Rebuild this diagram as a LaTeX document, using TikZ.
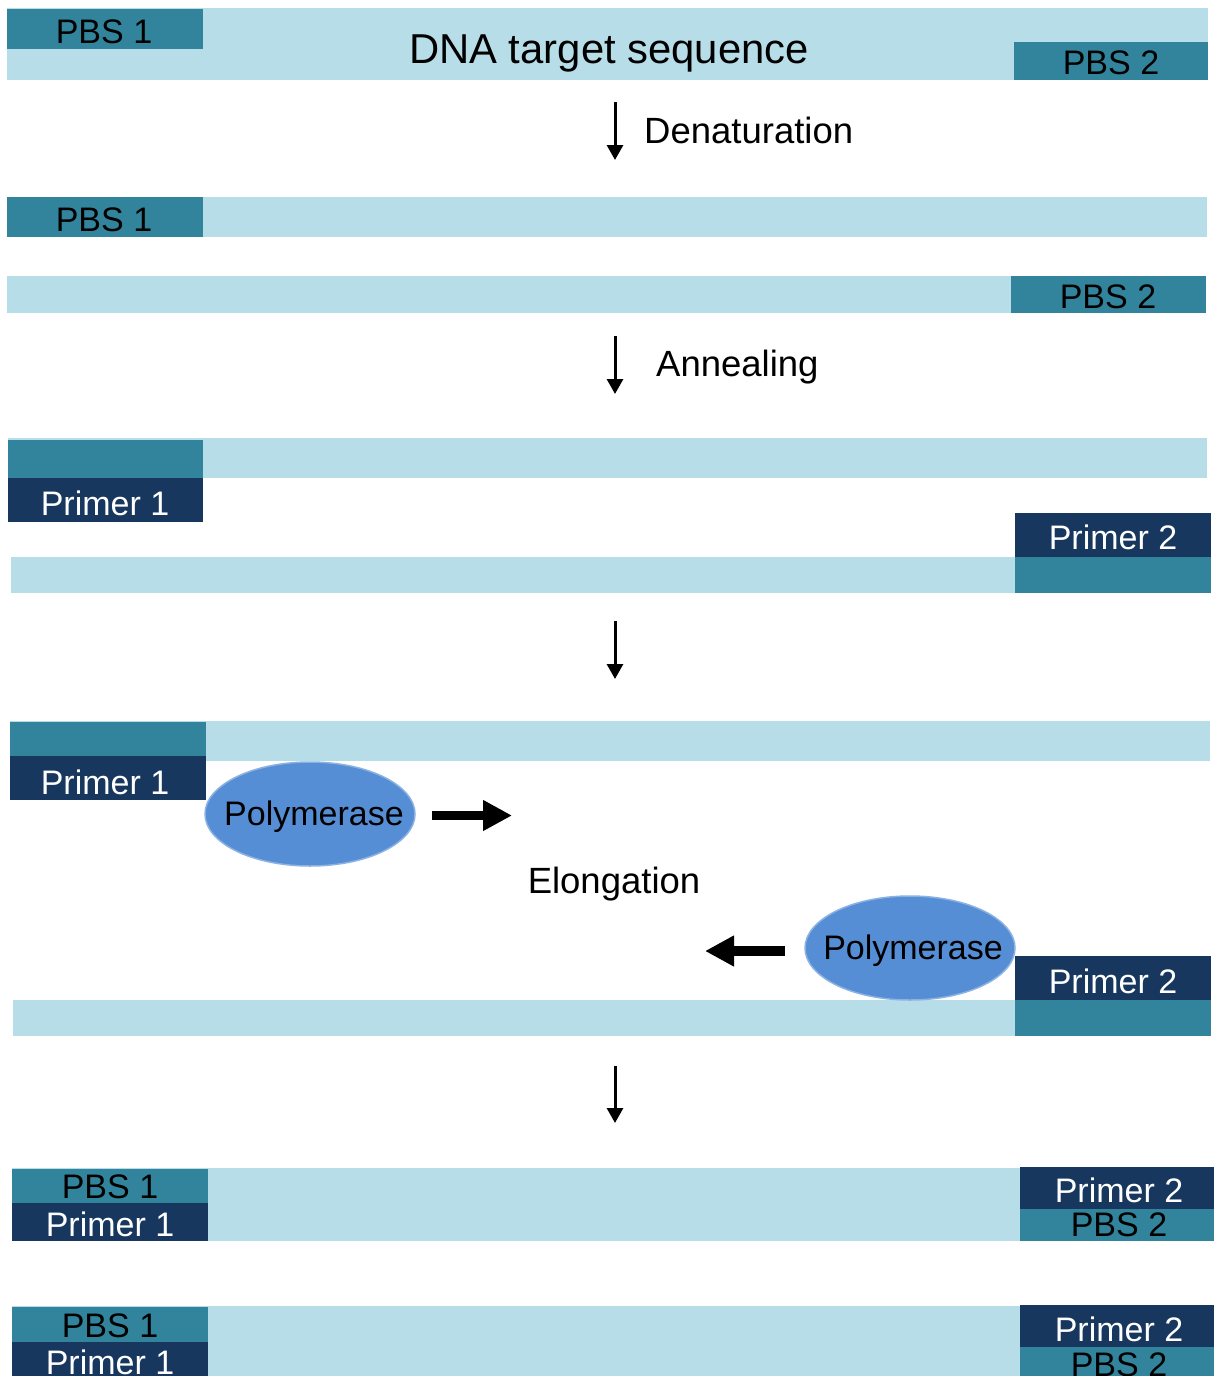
\documentclass[tikz,border=0pt]{standalone}
\usepackage{fontspec}
\setmainfont{Liberation Sans}
\usetikzlibrary{arrows.meta,shapes.geometric}
\definecolor{lightdna}{HTML}{B7DDE8}
\definecolor{pbsteal}{HTML}{31849B}
\definecolor{primernavy}{HTML}{17375E}
\definecolor{polblue}{HTML}{558ED5}
\definecolor{poledge}{HTML}{8CB2E3}
\tikzset{
  strand/.style={fill=lightdna},
  pbsbox/.style={fill=pbsteal},
  primerbox/.style={fill=primernavy},
  pbstext/.style={anchor=base, text=black, inner sep=0pt, font=\fontsize{34}{40}\selectfont},
  primertext/.style={anchor=base, text=white, inner sep=0pt, font=\fontsize{34}{40}\selectfont},
  steptext/.style={anchor=base west, inner sep=0pt, font=\fontsize{36.5}{42}\selectfont},
  titletext/.style={anchor=base, inner sep=0pt, font=\fontsize{41.8}{48}\selectfont},
  downarrow/.style={line width=3pt, -{Triangle[length=15pt,width=16pt]}},
  fatarrow/.style={line width=9.5pt, -{Triangle[length=29pt,width=29pt]}},
  polymerase/.style={ellipse, fill=polblue, draw=poledge, line width=1.5pt,
     minimum width=210pt, minimum height=104pt, inner sep=0pt},
  poltext/.style={anchor=base, inner sep=0pt, font=\fontsize{34}{40}\selectfont}
}
\begin{document}
\begin{tikzpicture}[x=1pt,y=-1pt]
\useasboundingbox (0,0) rectangle (1214,1376);
\clip (0,0) rectangle (1214,1376);
\fill[white] (0,0) rectangle (1214,1376);

% Row 1: DNA target sequence
\fill[strand] (7,8) rectangle (1208,80);
\fill[pbsbox] (7,9) rectangle (203,49);
\fill[pbsbox] (1014,42) rectangle (1208,80);
\node[pbstext] (r1pbs1) at (104,43) {PBS 1};
\node[pbstext] (r1pbs2) at (1111,74) {PBS 2};
\node[titletext] (title) at (609,63) {DNA target sequence};

% Denaturation
\coordinate (d1s) at (615,102);
\coordinate (d1e) at (615,160);
\draw[downarrow] (d1s) -- (d1e);
\node[steptext] (denat) at (644,143) {Denaturation};

% Row 2 and 3: single strands
\fill[strand] (7,197) rectangle (1207,237);
\fill[pbsbox] (7,197) rectangle (203,237);
\node[pbstext] (r2pbs1) at (104,231) {PBS 1};
\fill[strand] (7,276) rectangle (1206,313);
\fill[pbsbox] (1011,276) rectangle (1206,313);
\node[pbstext] (r3pbs2) at (1108,308) {PBS 2};

% Annealing
\coordinate (d2s) at (615,336);
\coordinate (d2e) at (615,394);
\draw[downarrow] (d2s) -- (d2e);
\node[steptext] (anneal) at (656,376) {Annealing};

% Row 4: annealed primers
\fill[strand] (8,438) rectangle (1207,478);
\fill[pbsbox] (8,440) rectangle (203,478);
\fill[primerbox] (8,478) rectangle (203,522);
\node[primertext] (r4p1) at (105,515) {Primer 1};
\fill[strand] (11,557) rectangle (1211,593);
\fill[primerbox] (1015,513) rectangle (1211,557);
\fill[pbsbox] (1015,557) rectangle (1211,593);
\node[primertext] (r4p2) at (1113,549) {Primer 2};

% Arrow 3
\coordinate (d3s) at (615,621);
\coordinate (d3e) at (615,679);
\draw[downarrow] (d3s) -- (d3e);

% Row 5: elongation
\fill[strand] (10,721) rectangle (1210,761);
\fill[pbsbox] (10,722) rectangle (206,756);
\fill[primerbox] (10,756) rectangle (206,800);
\node[primertext] (r5p1) at (105,794) {Primer 1};
\node[polymerase] (pol1) at (310,814) {};
\node[poltext] (pol1t) at ([xshift=4pt,yshift=-11pt]pol1.center) {Polymerase};
\coordinate (ra1) at (432,815.5);
\coordinate (ra2) at (512,815.5);
\draw[fatarrow] (ra1) -- (ra2);
\node[anchor=base, inner sep=0pt, font=\fontsize{36.5}{42}\selectfont] (elong) at (614,893) {Elongation};
\fill[strand] (13,1000) rectangle (1211,1036);
\fill[primerbox] (1015,956) rectangle (1211,1000);
\fill[pbsbox] (1015,1000) rectangle (1211,1036);
\node[primertext] (r5p2) at (1113,993) {Primer 2};
\node[polymerase] (pol2) at (910,948) {};
\node[poltext] (pol2t) at ([xshift=3pt,yshift=-11pt]pol2.center) {Polymerase};
\coordinate (la1) at (785,951);
\coordinate (la2) at (705,951);
\draw[fatarrow] (la1) -- (la2);

% Arrow 4
\coordinate (d4s) at (615,1066);
\coordinate (d4e) at (615,1123);
\draw[downarrow] (d4s) -- (d4e);

% Row 6: products
\fill[strand] (12,1168) rectangle (1214,1241);
\fill[pbsbox] (12,1169) rectangle (208,1203);
\fill[primerbox] (12,1203) rectangle (208,1241);
\fill[primerbox] (1020,1167) rectangle (1214,1209);
\fill[pbsbox] (1020,1209) rectangle (1214,1241);
\node[pbstext] (r6pbs1) at (110,1198) {PBS 1};
\node[primertext] (r6p1) at (110,1236) {Primer 1};
\node[primertext] (r6p2) at (1119,1202) {Primer 2};
\node[pbstext] (r6pbs2) at (1119,1236) {PBS 2};

% Row 7: products (cut off at the lower edge, as in the source)
\fill[strand] (12,1306) rectangle (1214,1390);
\fill[pbsbox] (12,1307) rectangle (208,1342);
\fill[primerbox] (12,1342) rectangle (208,1390);
\fill[primerbox] (1020,1305) rectangle (1214,1347);
\fill[pbsbox] (1020,1347) rectangle (1214,1390);
\node[pbstext] (r7pbs1) at (110,1337) {PBS 1};
\node[primertext] (r7p1) at (110,1374) {Primer 1};
\node[primertext] (r7p2) at (1119,1341) {Primer 2};
\node[pbstext] (r7pbs2) at (1119,1376) {PBS 2};
\end{tikzpicture}
\end{document}
